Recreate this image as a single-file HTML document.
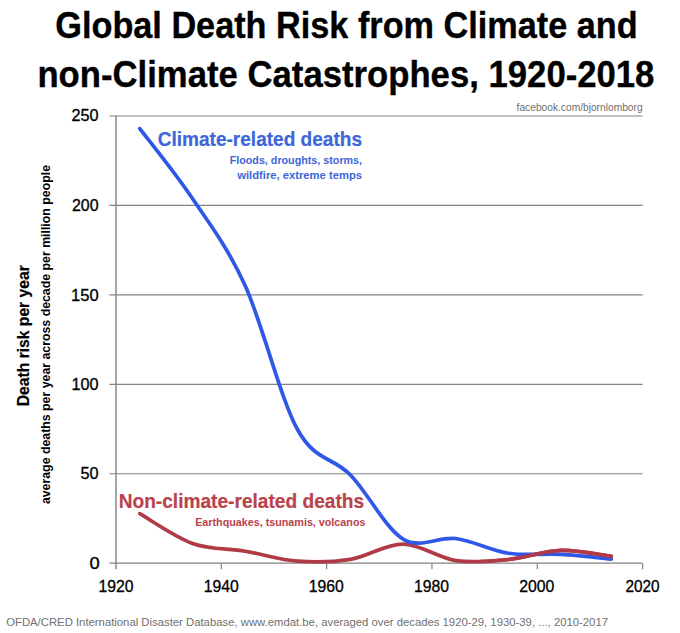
<!DOCTYPE html>
<html><head><meta charset="utf-8"><title>Global Death Risk from Climate and non-Climate Catastrophes</title>
<style>
html,body{margin:0;padding:0;background:#fff;width:680px;height:633px;overflow:hidden;}
svg{display:block;font-family:"Liberation Sans", sans-serif;}
</style></head><body>
<svg width="680" height="633" viewBox="0 0 680 633">
<line x1="116" y1="115.4" x2="116" y2="569.2" stroke="#a6a6a6" stroke-width="2"/>
<line x1="109.4" y1="473.76" x2="642.6" y2="473.76" stroke="#838383" stroke-width="1.2"/>
<line x1="109.4" y1="384.32" x2="642.6" y2="384.32" stroke="#838383" stroke-width="1.2"/>
<line x1="109.4" y1="294.88" x2="642.6" y2="294.88" stroke="#838383" stroke-width="1.2"/>
<line x1="109.4" y1="205.44" x2="642.6" y2="205.44" stroke="#838383" stroke-width="1.2"/>
<line x1="109.4" y1="116.00" x2="642.6" y2="116.00" stroke="#838383" stroke-width="1.2"/>
<line x1="109.4" y1="563.20" x2="642.6" y2="563.20" stroke="#838383" stroke-width="1.2"/>
<line x1="221.32" y1="563.20" x2="221.32" y2="569.2" stroke="#838383" stroke-width="1.2"/>
<line x1="326.64" y1="563.20" x2="326.64" y2="569.2" stroke="#838383" stroke-width="1.2"/>
<line x1="431.96" y1="563.20" x2="431.96" y2="569.2" stroke="#838383" stroke-width="1.2"/>
<line x1="537.28" y1="563.20" x2="537.28" y2="569.2" stroke="#838383" stroke-width="1.2"/>
<line x1="642.60" y1="563.20" x2="642.60" y2="569.2" stroke="#838383" stroke-width="1.2"/>
<path d="M139.80,513.69 C148.58,518.64 174.91,537.14 192.46,543.40 C210.01,549.66 227.57,548.27 245.12,551.23 C262.67,554.20 280.23,559.84 297.78,561.20 C315.33,562.56 332.89,562.23 350.44,559.39 C367.99,556.55 385.55,543.93 403.10,544.13 C420.65,544.33 438.21,558.03 455.76,560.59 C473.31,563.15 490.87,561.20 508.42,559.50 C525.97,557.79 543.93,550.88 561.08,550.36 C578.23,549.84 602.93,555.38 611.30,556.38" fill="none" stroke="#b03a45" stroke-width="3.7" stroke-linecap="round" stroke-linejoin="round"/>
<path d="M139.80,128.59 C148.58,140.25 174.91,172.35 192.46,198.52 C210.01,224.68 227.57,246.99 245.12,285.58 C262.67,324.16 280.23,398.46 297.78,430.02 C315.33,461.59 332.89,456.81 350.44,474.98 C367.99,493.15 385.55,528.46 403.10,539.05 C420.65,549.64 438.21,536.15 455.76,538.51 C473.31,540.88 490.87,550.56 508.42,553.22 C525.97,555.87 543.93,553.47 561.08,554.45 C578.23,555.44 602.93,558.34 611.30,559.12" fill="none" stroke="#2f58e6" stroke-width="3.7" stroke-linecap="round" stroke-linejoin="round"/>
<clipPath id="cr"><rect x="480" y="500" width="200" height="80"/></clipPath>
<path clip-path="url(#cr)" d="M139.80,513.69 C148.58,518.64 174.91,537.14 192.46,543.40 C210.01,549.66 227.57,548.27 245.12,551.23 C262.67,554.20 280.23,559.84 297.78,561.20 C315.33,562.56 332.89,562.23 350.44,559.39 C367.99,556.55 385.55,543.93 403.10,544.13 C420.65,544.33 438.21,558.03 455.76,560.59 C473.31,563.15 490.87,561.20 508.42,559.50 C525.97,557.79 543.93,550.88 561.08,550.36 C578.23,549.84 602.93,555.38 611.30,556.38" fill="none" stroke="#b03a45" stroke-width="3.7" stroke-linecap="round" stroke-linejoin="round"/>
<text x="55.30" y="37.90" font-size="36.80" font-weight="bold" fill="#000" stroke="#000" stroke-width="0.35" textLength="582.42" lengthAdjust="spacingAndGlyphs">Global Death Risk from Climate and</text>
<text x="37.40" y="87.00" font-size="36.80" font-weight="bold" fill="#000" stroke="#000" stroke-width="0.35" textLength="617.02" lengthAdjust="spacingAndGlyphs">non-Climate Catastrophes, 1920-2018</text>
<text x="516.60" y="110.70" font-size="11.00" font-weight="normal" fill="#6e6e6e" textLength="126.00" lengthAdjust="spacingAndGlyphs">facebook.com/bjornlomborg</text>
<text x="157.70" y="146.10" font-size="19.90" font-weight="bold" fill="#3d66d9" stroke="#3d66d9" stroke-width="0.20" textLength="204.34" lengthAdjust="spacingAndGlyphs">Climate-related deaths</text>
<text x="229.70" y="163.80" font-size="10.50" font-weight="bold" fill="#3d66d9" textLength="132.40" lengthAdjust="spacingAndGlyphs">Floods, droughts, storms,</text>
<text x="237.20" y="179.00" font-size="10.50" font-weight="bold" fill="#3d66d9" textLength="124.88" lengthAdjust="spacingAndGlyphs">wildfire, extreme temps</text>
<text x="118.70" y="507.60" font-size="19.30" font-weight="bold" fill="#b8434b" stroke="#b8434b" stroke-width="0.20" textLength="245.42" lengthAdjust="spacingAndGlyphs">Non-climate-related deaths</text>
<text x="195.20" y="526.20" font-size="10.50" font-weight="bold" fill="#b8434b" textLength="170.24" lengthAdjust="spacingAndGlyphs">Earthquakes, tsunamis, volcanos</text>
<g transform="translate(28.60,406.20) rotate(-90)"><text x="0.00" y="0.00" font-size="16.00" font-weight="bold" fill="#000" stroke="#000" stroke-width="0.20" textLength="140.92" lengthAdjust="spacingAndGlyphs">Death risk per year</text></g>
<g transform="translate(49.80,504.10) rotate(-90)"><text x="0.00" y="0.00" font-size="12.50" font-weight="bold" fill="#000" textLength="339.10" lengthAdjust="spacingAndGlyphs">average deaths per year across decade per million people</text></g>
<text x="6.20" y="625.60" font-size="11.60" font-weight="normal" fill="#707070" textLength="601.80" lengthAdjust="spacingAndGlyphs">OFDA/CRED International Disaster Database, www.emdat.be, averaged over decades 1920-29, 1930-39, ..., 2010-2017</text>
<text x="89.50" y="568.82" font-size="15.60" font-weight="normal" fill="#000" stroke="#000" stroke-width="0.30" textLength="10.25" lengthAdjust="spacingAndGlyphs">0</text>
<text x="80.50" y="478.93" font-size="15.60" font-weight="normal" fill="#000" stroke="#000" stroke-width="0.30" textLength="18.13" lengthAdjust="spacingAndGlyphs">50</text>
<text x="71.50" y="390.00" font-size="15.60" font-weight="normal" fill="#000" stroke="#000" stroke-width="0.30" textLength="27.11" lengthAdjust="spacingAndGlyphs">100</text>
<text x="71.00" y="301.08" font-size="15.60" font-weight="normal" fill="#000" stroke="#000" stroke-width="0.30" textLength="27.64" lengthAdjust="spacingAndGlyphs">150</text>
<text x="72.00" y="211.14" font-size="15.60" font-weight="normal" fill="#000" stroke="#000" stroke-width="0.30" textLength="26.56" lengthAdjust="spacingAndGlyphs">200</text>
<text x="71.50" y="121.22" font-size="15.60" font-weight="normal" fill="#000" stroke="#000" stroke-width="0.30" textLength="27.08" lengthAdjust="spacingAndGlyphs">250</text>
<text x="98.45" y="592.28" font-size="15.60" font-weight="normal" fill="#000" stroke="#000" stroke-width="0.30" textLength="35.02" lengthAdjust="spacingAndGlyphs">1920</text>
<text x="203.65" y="592.28" font-size="15.60" font-weight="normal" fill="#000" stroke="#000" stroke-width="0.30" textLength="35.02" lengthAdjust="spacingAndGlyphs">1940</text>
<text x="308.85" y="592.28" font-size="15.60" font-weight="normal" fill="#000" stroke="#000" stroke-width="0.30" textLength="35.02" lengthAdjust="spacingAndGlyphs">1960</text>
<text x="414.05" y="592.28" font-size="15.60" font-weight="normal" fill="#000" stroke="#000" stroke-width="0.30" textLength="35.02" lengthAdjust="spacingAndGlyphs">1980</text>
<text x="519.25" y="592.28" font-size="15.60" font-weight="normal" fill="#000" stroke="#000" stroke-width="0.30" textLength="35.14" lengthAdjust="spacingAndGlyphs">2000</text>
<text x="625.45" y="592.28" font-size="15.60" font-weight="normal" fill="#000" stroke="#000" stroke-width="0.30" textLength="34.08" lengthAdjust="spacingAndGlyphs">2020</text>
</svg>
</body></html>
